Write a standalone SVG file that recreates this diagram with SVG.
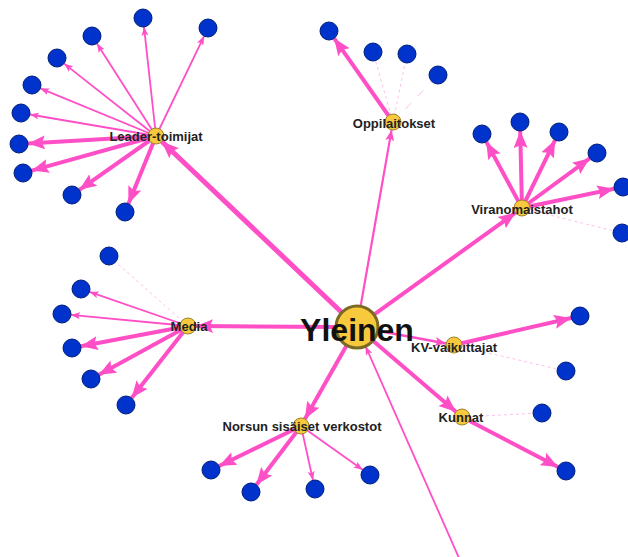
<svg xmlns="http://www.w3.org/2000/svg" width="628" height="557" viewBox="0 0 628 557">
<style>
.e{stroke:#ff4fc6;fill:none;stroke-linecap:butt}
.thick{stroke-width:4;marker-end:url(#big)}
.thin{stroke-width:1.8;marker-end:url(#small)}
.med{stroke-width:2.2;marker-end:url(#med)}
.faint{stroke:#ffb8ea;stroke-width:0.9;stroke-dasharray:3 3;fill:none}
.leaf{fill:#0033cc;stroke:#001f7a;stroke-width:1}
.hub{fill:#f8c93d;stroke:#9a8430;stroke-width:1}
.lbl{font-family:"Liberation Sans",Arial,sans-serif;font-weight:bold;font-size:13px;fill:#222;text-anchor:middle}
</style>
<defs>
<marker id="big" markerUnits="userSpaceOnUse" markerWidth="20" markerHeight="16" refX="17" refY="7" orient="auto" viewBox="0 0 20 14"><path d="M0,0 L17,7 L0,14 L3,7 z" fill="#ff4fc6"/></marker>
<marker id="med" markerUnits="userSpaceOnUse" markerWidth="12" markerHeight="9" refX="11" refY="4.5" orient="auto" viewBox="0 0 12 9"><path d="M0,0 L11,4.5 L0,9 L2.5,4.5 z" fill="#ff4fc6"/></marker>
<marker id="small" markerUnits="userSpaceOnUse" markerWidth="10" markerHeight="7" refX="9" refY="3.5" orient="auto" viewBox="0 0 10 7"><path d="M0,0 L9,3.5 L0,7 L2,3.5 z" fill="#ff4fc6"/></marker>
</defs>
<rect width="628" height="557" fill="#ffffff"/>
<g id="connectors">
<line class="e thick" style="stroke-width:5" x1="341.8" y1="312.5" x2="161.8" y2="141.5"/>
<line class="e med" x1="360.6" y1="306.3" x2="391.6" y2="129.9"/>
<line class="e thick" x1="374" y1="314.7" x2="515.5" y2="212.7"/>
<line class="e thick" x1="336" y1="327" x2="196" y2="326"/>
<line class="e med" style="stroke-width:2.6" x1="377.6" y1="330.8" x2="446.1" y2="343.5"/>
<line class="e thick" x1="373" y1="340.7" x2="455.9" y2="411.8"/>
<line class="e thick" x1="346.7" y1="345.3" x2="304.9" y2="419"/>
<line class="e thin" x1="463" y1="567" x2="365.5" y2="346.2"/>
<line class="e thin" x1="156" y1="136" x2="144" y2="26.9"/>
<line class="e thin" x1="156" y1="136" x2="204.1" y2="36.1"/>
<line class="e thin" x1="156" y1="136" x2="96.9" y2="43.6"/>
<line class="e thin" x1="156" y1="136" x2="64.1" y2="63.6"/>
<line class="e thin" x1="156" y1="136" x2="40.3" y2="88.4"/>
<line class="e thin" x1="156" y1="136" x2="29.9" y2="114.5"/>
<line class="e thick" x1="156" y1="136" x2="28" y2="143.5"/>
<line class="e thick" x1="156" y1="136" x2="31.7" y2="170.6"/>
<line class="e thick" x1="156" y1="136" x2="79.4" y2="189.8"/>
<line class="e thick" x1="156" y1="136" x2="128.4" y2="203.7"/>
<line class="e thick" x1="393" y1="122" x2="334.2" y2="38.4"/>
<line class="faint" x1="393" y1="122" x2="375.5" y2="60.7"/>
<line class="faint" x1="393" y1="122" x2="405.2" y2="62.8"/>
<line class="faint" x1="393" y1="122" x2="431.8" y2="81.5" style="stroke-dasharray:8 10"/>
<line class="e thick" x1="522" y1="208" x2="486.3" y2="141.9"/>
<line class="e thick" x1="522" y1="208" x2="520.2" y2="131"/>
<line class="e thick" x1="522" y1="208" x2="555.1" y2="140.1"/>
<line class="e thick" x1="522" y1="208" x2="589.7" y2="158.3"/>
<line class="e thick" x1="522" y1="208" x2="614.2" y2="188.8"/>
<line class="faint" x1="522" y1="208" x2="613.3" y2="230.8"/>
<line class="faint" x1="188" y1="326" x2="115.6" y2="261.9"/>
<line class="e thin" x1="188" y1="326" x2="89.5" y2="291.9"/>
<line class="e thin" x1="188" y1="326" x2="71" y2="314.9"/>
<line class="e thick" x1="188" y1="326" x2="80.8" y2="346.3"/>
<line class="e thick" x1="188" y1="326" x2="98.9" y2="374.7"/>
<line class="e thick" x1="188" y1="326" x2="131.6" y2="397.9"/>
<line class="e thick" x1="454" y1="345" x2="571.2" y2="318"/>
<line class="faint" x1="454" y1="345" x2="557.2" y2="369"/>
<line class="faint" x1="462" y1="417" x2="533" y2="413.4"/>
<line class="e thick" x1="462" y1="417" x2="558" y2="466.9"/>
<line class="e thick" x1="301" y1="426" x2="219.1" y2="466"/>
<line class="e thick" x1="301" y1="426" x2="256.4" y2="484.8"/>
<line class="e thin" x1="301" y1="426" x2="313" y2="480.2"/>
<line class="e thin" x1="301" y1="426" x2="362.7" y2="469.8"/>
</g>
<g id="leaf-nodes">
<g id="n-l1"><circle class="leaf" cx="143" cy="18" r="9"/></g>
<g id="n-l2"><circle class="leaf" cx="208" cy="28" r="9"/></g>
<g id="n-l3"><circle class="leaf" cx="92" cy="36" r="9"/></g>
<g id="n-l4"><circle class="leaf" cx="57" cy="58" r="9"/></g>
<g id="n-l5"><circle class="leaf" cx="32" cy="85" r="9"/></g>
<g id="n-l6"><circle class="leaf" cx="21" cy="113" r="9"/></g>
<g id="n-l7"><circle class="leaf" cx="19" cy="144" r="9"/></g>
<g id="n-l8"><circle class="leaf" cx="23" cy="173" r="9"/></g>
<g id="n-l9"><circle class="leaf" cx="72" cy="195" r="9"/></g>
<g id="n-l10"><circle class="leaf" cx="125" cy="212" r="9"/></g>
<g id="n-o1"><circle class="leaf" cx="329" cy="31" r="9"/></g>
<g id="n-o2"><circle class="leaf" cx="373" cy="52" r="9"/></g>
<g id="n-o3"><circle class="leaf" cx="407" cy="54" r="9"/></g>
<g id="n-o4"><circle class="leaf" cx="438" cy="75" r="9"/></g>
<g id="n-v1"><circle class="leaf" cx="482" cy="134" r="9"/></g>
<g id="n-v2"><circle class="leaf" cx="520" cy="122" r="9"/></g>
<g id="n-v3"><circle class="leaf" cx="559" cy="132" r="9"/></g>
<g id="n-v4"><circle class="leaf" cx="597" cy="153" r="9"/></g>
<g id="n-v5"><circle class="leaf" cx="623" cy="187" r="9"/></g>
<g id="n-v6"><circle class="leaf" cx="622" cy="233" r="9"/></g>
<g id="n-m1"><circle class="leaf" cx="109" cy="256" r="9"/></g>
<g id="n-m2"><circle class="leaf" cx="81" cy="289" r="9"/></g>
<g id="n-m3"><circle class="leaf" cx="62" cy="314" r="9"/></g>
<g id="n-m4"><circle class="leaf" cx="72" cy="348" r="9"/></g>
<g id="n-m5"><circle class="leaf" cx="91" cy="379" r="9"/></g>
<g id="n-m6"><circle class="leaf" cx="126" cy="405" r="9"/></g>
<g id="n-k1"><circle class="leaf" cx="580" cy="316" r="9"/></g>
<g id="n-k2"><circle class="leaf" cx="566" cy="371" r="9"/></g>
<g id="n-u1"><circle class="leaf" cx="542" cy="413" r="9"/></g>
<g id="n-u2"><circle class="leaf" cx="566" cy="471" r="9"/></g>
<g id="n-s1"><circle class="leaf" cx="211" cy="470" r="9"/></g>
<g id="n-s2"><circle class="leaf" cx="251" cy="492" r="9"/></g>
<g id="n-s3"><circle class="leaf" cx="315" cy="489" r="9"/></g>
<g id="n-s4"><circle class="leaf" cx="370" cy="475" r="9"/></g>
</g>
<g id="hub-nodes">
<g id="leader"><circle class="hub" cx="156" cy="136" r="8"/><text class="lbl" x="156" y="141">Leader-toimijat</text></g>
<g id="oppilaitokset"><circle class="hub" cx="393" cy="122" r="8"/><text class="lbl" x="394" y="128">Oppilaitokset</text></g>
<g id="viranomaistahot"><circle class="hub" cx="522" cy="208" r="8"/><text class="lbl" x="522" y="214">Viranomaistahot</text></g>
<g id="media"><circle class="hub" cx="188" cy="326" r="8"/><text class="lbl" x="189" y="331">Media</text></g>
<g id="kv"><circle class="hub" cx="454" cy="345" r="8"/><text class="lbl" x="454" y="352">KV-vaikuttajat</text></g>
<g id="kunnat"><circle class="hub" cx="462" cy="417" r="8"/><text class="lbl" x="461" y="422">Kunnat</text></g>
<g id="norsun"><circle class="hub" cx="301" cy="426" r="8"/><text class="lbl" x="302" y="431">Norsun sisäiset verkostot</text></g>
<g id="yleinen"><circle cx="357" cy="327" r="21" fill="#f8c93d" stroke="#7a6a24" stroke-width="3"/><text class="lbl" x="357" y="341" style="font-size:32px;fill:#111">Yleinen</text></g>
</g>
</svg>
